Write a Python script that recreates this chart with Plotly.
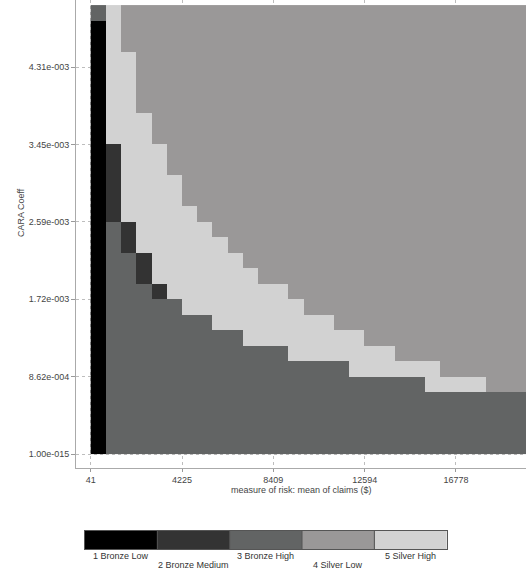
import plotly.graph_objects as go

# ---- categories / colours ----
plans = ["1 Bronze Low", "2 Bronze Medium", "3 Bronze High", "4 Silver Low", "5 Silver High"]
plan_colors = ["#000000", "#333333", "#626464", "#9a9898", "#d2d2d2"]

# ---- axes ----
x_tick_vals = [41, 4225.25, 8409.5, 12593.75, 16778]
x_tick_text = ["41", "4225", "8409", "12594", "16778"]
y_tick_vals = [1e-15, 8.62e-4, 1.724e-3, 2.586e-3, 3.448e-3, 4.31e-3]
y_tick_text = ["1.00e-015", "8.62e-004", "1.72e-003", "2.59e-003", "3.45e-003", "4.31e-003"]

claims_start, claims_step, n_cols = 41, 697.375, 29
cara_start, cara_step, n_rows = 1e-15, 1.724e-4, 29

# ---- chosen plan, read column by column (runs from the bottom row upward: (plan, rows)) ----
column_runs = [
    [(1, 28), (3, 1)],
    [(3, 15), (2, 5), (5, 9)],
    [(3, 13), (2, 2), (5, 11), (4, 3)],
    [(3, 11), (2, 2), (5, 9), (4, 7)],
    [(3, 10), (2, 1), (5, 9), (4, 9)],
    [(3, 10), (5, 8), (4, 11)],
    [(3, 9), (5, 7), (4, 13)],
    [(3, 9), (5, 6), (4, 14)],
    [(3, 8), (5, 6), (4, 15)],
    [(3, 8), (5, 5), (4, 16)],
    [(3, 7), (5, 5), (4, 17)],
    [(3, 7), (5, 4), (4, 18)],
    [(3, 7), (5, 4), (4, 18)],
    [(3, 6), (5, 4), (4, 19)],
    [(3, 6), (5, 3), (4, 20)],
    [(3, 6), (5, 3), (4, 20)],
    [(3, 6), (5, 2), (4, 21)],
    [(3, 5), (5, 3), (4, 21)],
    [(3, 5), (5, 2), (4, 22)],
    [(3, 5), (5, 2), (4, 22)],
    [(3, 5), (5, 1), (4, 23)],
    [(3, 5), (5, 1), (4, 23)],
    [(3, 4), (5, 2), (4, 23)],
    [(3, 4), (5, 1), (4, 24)],
    [(3, 4), (5, 1), (4, 24)],
    [(3, 4), (5, 1), (4, 24)],
    [(3, 4), (4, 25)],
    [(3, 4), (4, 25)],
    [(3, 4), (4, 25)],
]

columns = []
for runs in column_runs:
    col = []
    for plan, count in runs:
        col += [plan] * count
    assert len(col) == n_rows
    columns.append(col)
z = [[columns[c][r] for c in range(n_cols)] for r in range(n_rows)]

x_edges = [claims_start + i * claims_step for i in range(n_cols + 1)]
y_edges = [cara_start + j * cara_step for j in range(n_rows + 1)]

nc = len(plans)
colorscale = []
for i, col in enumerate(plan_colors):
    colorscale.append([i / nc, col])
    colorscale.append([(i + 1) / nc, col])

W, H = 526, 571
font = "Liberation Sans, Arial, sans-serif"
tickfont = dict(family=font, size=9, color="#444444")

fig = go.Figure()
fig.add_trace(go.Heatmap(z=z, x=x_edges, y=y_edges, colorscale=colorscale,
                         zmin=0.5, zmax=nc + 0.5, showscale=False,
                         xaxis="x", yaxis="y"))
fig.add_trace(go.Heatmap(z=[list(range(1, nc + 1))], x=list(range(nc + 1)), y=[0, 1],
                         colorscale=colorscale, zmin=0.5, zmax=nc + 0.5,
                         showscale=False, hoverinfo="skip", xaxis="x2", yaxis="y2"))

# per-pixel scale used to place the axis padding
x_px = claims_step / 15.22
y_px = cara_step / 15.48

annotations = [
    dict(text="measure of risk: mean of claims ($)", xref="paper", yref="paper",
         x=301 / W, y=1 - 490 / H, showarrow=False, xanchor="center", yanchor="middle",
         font=dict(family=font, size=9, color="#444444")),
    dict(text="CARA Coeff", xref="paper", yref="paper", x=21 / W, y=1 - 213 / H,
         showarrow=False, textangle=-90, xanchor="center", yanchor="middle",
         font=dict(family=font, size=9, color="#444444")),
]
for i, name in enumerate(plans):
    annotations.append(dict(text=name, xref="x2", yref="paper", x=i + 0.5,
                            y=1 - (556 if i % 2 == 0 else 565) / H, showarrow=False,
                            xanchor="center", yanchor="middle",
                            font=dict(family=font, size=9, color="#333333")))

shapes = [dict(type="line", xref="x2", yref="y2", x0=k, x1=k, y0=0, y1=1,
               line=dict(color="#555555", width=1)) for k in range(1, nc)]

fig.update_layout(
    width=W, height=H, margin=dict(l=0, r=0, t=0, b=0),
    paper_bgcolor="white", plot_bgcolor="white", showlegend=False,
    xaxis=dict(domain=[76 / W, 1], range=[claims_start - 14.7 * x_px, claims_start + 435.3 * x_px],
               tickvals=x_tick_vals, ticktext=x_tick_text, ticks="outside", ticklen=3,
               tickcolor="#999999", showline=True, linecolor="#aaaaaa", linewidth=1,
               showgrid=True, gridcolor="#bdbdbd", griddash="dot", zeroline=False,
               tickfont=tickfont, automargin=False, anchor="y"),
    yaxis=dict(domain=[1 - 468 / H, 1], range=[-14 * y_px, 454 * y_px],
               tickvals=y_tick_vals, ticktext=y_tick_text, ticks="outside", ticklen=4,
               tickcolor="#999999", showline=True, linecolor="#aaaaaa", linewidth=1,
               showgrid=True, gridcolor="#bdbdbd", griddash="dot", zeroline=False,
               tickfont=tickfont, automargin=False, anchor="x"),
    xaxis2=dict(domain=[85 / W, 446.7 / W], range=[0, nc], showticklabels=False, ticks="",
                showgrid=False, zeroline=False, showline=True, mirror=True,
                linecolor="#555555", anchor="y2"),
    yaxis2=dict(domain=[1 - 549.3 / H, 1 - 530.7 / H], range=[0, 1], showticklabels=False,
                ticks="", showgrid=False, zeroline=False, showline=True, mirror=True,
                linecolor="#555555", anchor="x2"),
    annotations=annotations, shapes=shapes,
)

fig.write_html("out.html", config={"displayModeBar": False},
               post_script="document.body.style.margin='0';document.body.style.overflow='hidden';")
